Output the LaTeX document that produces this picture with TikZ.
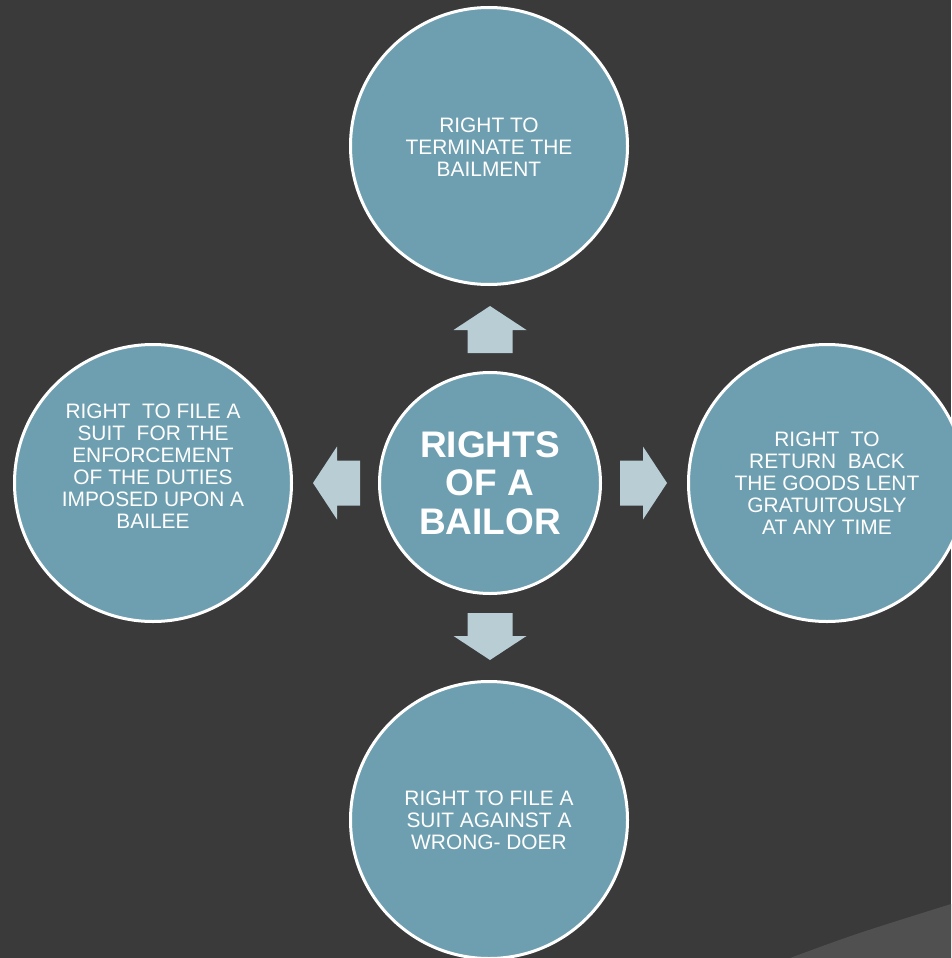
\documentclass[tikz,border=0pt]{standalone}
\usepackage{fontspec}
\setmainfont{Liberation Sans}
\usepackage{xcolor}
\usepackage{tikz}
\definecolor{slidebg}{HTML}{3A3A3A}
\definecolor{wedgegray}{HTML}{505050}
\definecolor{bubblefill}{HTML}{6E9FB0}
\definecolor{arrowfill}{HTML}{B9CDD5}
\tikzset{
  bubble/.style={circle, fill=bubblefill, draw=white, line width=3pt, inner sep=0pt, minimum size=277pt},
  hub/.style={bubble, minimum size=221pt},
  smalltxt/.style={text=white, align=center, font=\fontsize{20.9}{22}\selectfont},
  bigtxt/.style={text=white, align=center, font=\fontsize{37}{38.5}\selectfont\bfseries}
}
\begin{document}
\begin{tikzpicture}[x=1pt, y=-1pt]
 \fill[slidebg] (0,0) rectangle (951,958);
 \useasboundingbox (0,0) rectangle (951,958);
 \fill[wedgegray] (790,958) .. controls (855,934) .. (951,904) -- (951,958) -- cycle;
 %circles
 \node[hub] (bailor) at (490,483) {};
 \node[bubble] (term) at (489,146) {};
 \node[bubble] (suit) at (153,483) {};
 \node[bubble] (ret) at (827,483) {};
 \node[bubble] (wrong) at (489,820) {};
 %arrows
 \foreach \ang in {0,90,180,270}
  \fill[arrowfill, shift={(bailor.center)}, rotate=\ang]
   (130,-22.5) -- (153,-22.5) -- (153,-36.5) -- (177,0) -- (153,36.5)
   -- (153,22.5) -- (130,22.5) -- cycle;
 %texts
 \node[bigtxt] (bailortxt) at (bailor.center) {RIGHTS\\OF A\\BAILOR};
 \node[smalltxt] (termtxt) at ([yshift=-1pt]term.center) {RIGHT TO\\TERMINATE THE\\BAILMENT};
 \node[smalltxt] (suittxt) at ([yshift=17pt]suit.center) {RIGHT\ \ TO FILE A\\SUIT\ \ FOR THE\\ENFORCEMENT\\OF THE DUTIES\\IMPOSED UPON A\\BAILEE};
 \node[smalltxt] (rettxt) at (ret.center) {RIGHT\ \ TO\\RETURN\ \ BACK\\THE GOODS LENT\\GRATUITOUSLY\\AT ANY TIME};
 \node[smalltxt] (wrongtxt) at (wrong.center) {RIGHT TO FILE A\\SUIT AGAINST A\\WRONG- DOER};
\end{tikzpicture}
\end{document}
